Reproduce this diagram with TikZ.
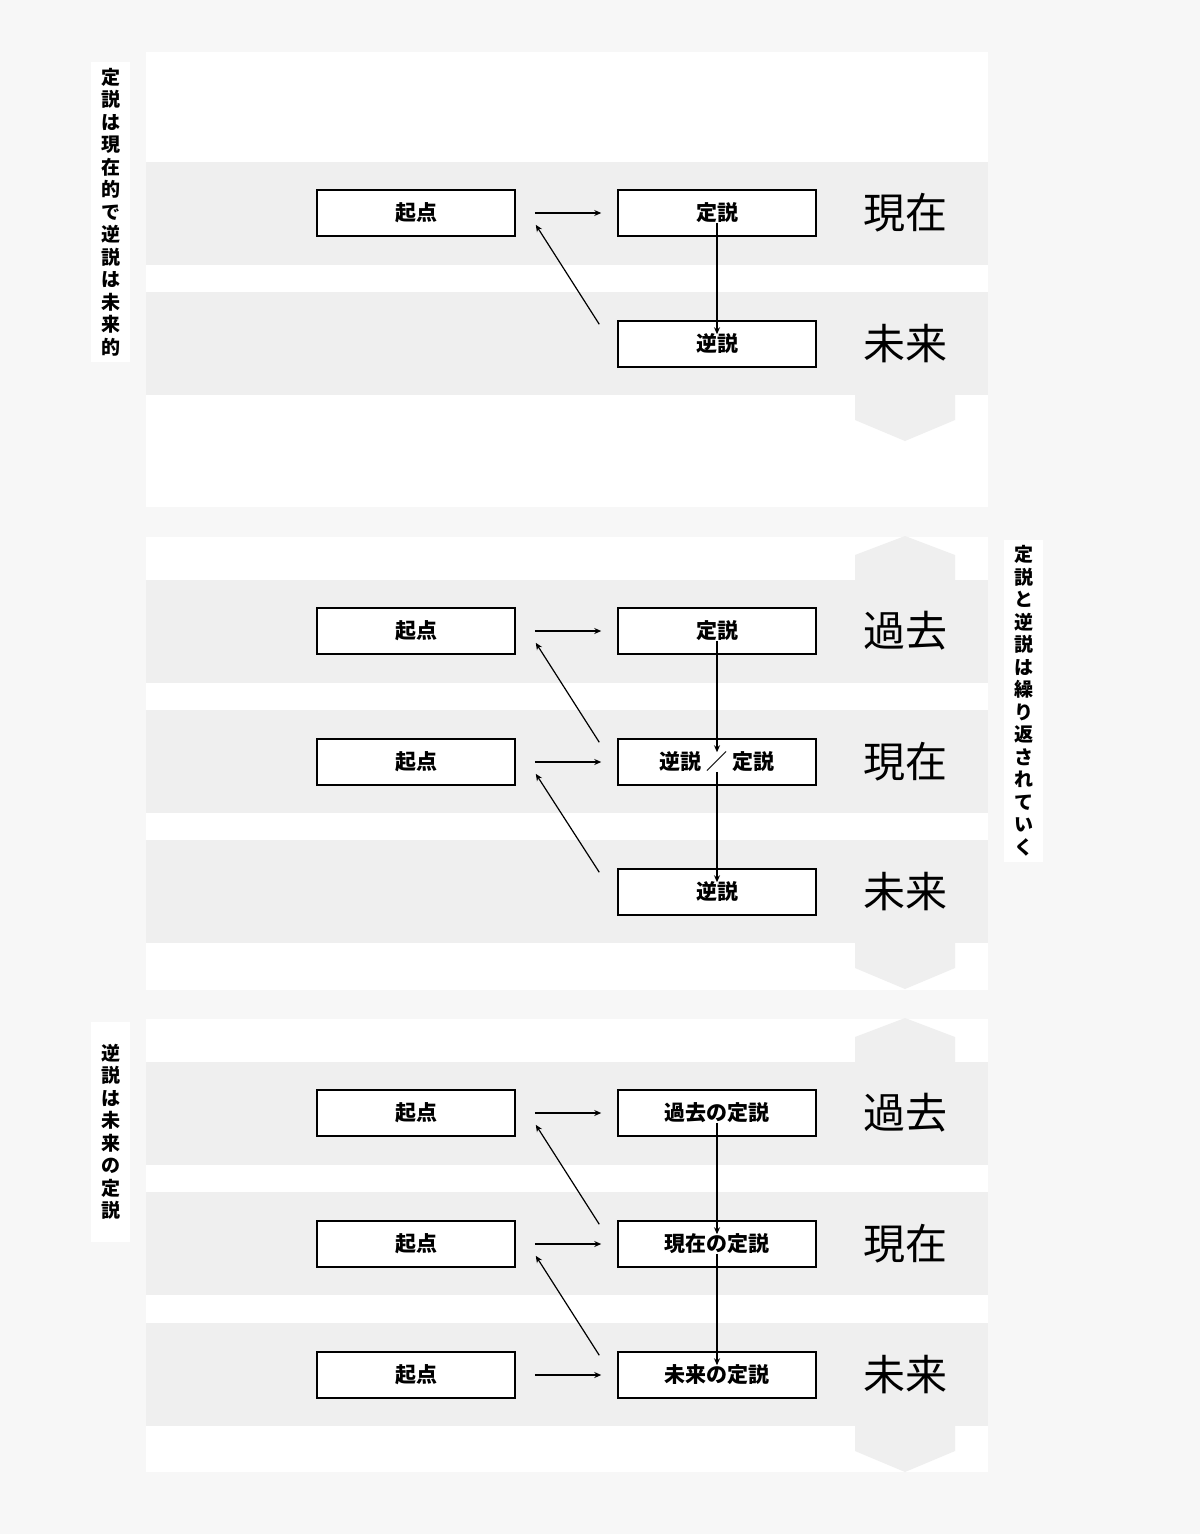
\documentclass[tikz,border=0pt]{standalone}
\usepackage{fontspec}
\setmainfont{Noto Sans CJK JP}
\usetikzlibrary{arrows.meta,positioning,calc}
\definecolor{pagebg}{HTML}{F7F7F7}
\definecolor{bandgray}{HTML}{EFEFEF}
\begin{document}
\begin{tikzpicture}[x=1pt, y=-1pt,
    box/.style={draw, line width=1.5pt, fill=white, minimum width=198pt, minimum height=46pt, inner sep=0pt, font=\fontsize{21}{24}\selectfont\bfseries},
    era/.style={font=\fontsize{42}{46}\selectfont},
    vlabel/.style={fill=white, align=center, inner sep=0pt, minimum width=39pt, font=\fontsize{19}{22.5}\selectfont\bfseries},
    arr/.style={-{Stealth[length=7pt, width=6pt]}, line width=1.2pt},
    band/.style={fill=bandgray}
  ]
    \useasboundingbox[fill=pagebg] (0,0) rectangle (1200,1534);
    % panels
    \fill[white] (146,52) rectangle (988,507);
    \fill[white] (146,537) rectangle (988,990);
    \fill[white] (146,1019) rectangle (988,1472);
    % bands
    \foreach \y in {162,292,580,710,840,1062,1192,1323}
      \fill[band] (146,\y) rectangle (988,\y+103);
    % chevrons
    \foreach \y in {395,943,1426}
      \fill[band] (855,\y) -- (955,\y) -- (955,\y+25) -- (905,\y+46) -- (855,\y+25) -- cycle;
    \foreach \y in {580,1062}
      \fill[band] (855,\y) -- (855,\y-25) -- (905,\y-44) -- (955,\y-25) -- (955,\y) -- cycle;

    % panel 1
    \node[box] (s1) at (416,213) {起点};
    \node[box] (t1) at (717,213) {定説};
    \node[box] (p1) at (717,344) {逆説};
    \node[era] (e1a) at (905,213) {現在};
    \node[era] (e1b) at (905,344) {未来};
    \draw[arr] ([xshift=19pt]s1.east) -- ([xshift=-16pt]t1.west);
    \draw[arr] ([yshift=14pt]t1.south) -- ([yshift=-14pt]p1.north);
    \draw[arr] ([xshift=-18pt, yshift=-4pt]p1.north west) -- ([xshift=20pt, yshift=12pt]s1.south east);

    % panel 2
    \node[box] (s2a) at (416,631) {起点};
    \node[box] (t2a) at (717,631) {定説};
    \node[box] (s2b) at (416,762) {起点};
    \node[box] (t2b) at (717,762) {逆説 ／ 定説};
    \node[box] (t2c) at (717,892) {逆説};
    \node[era] at (905,631) {過去};
    \node[era] at (905,762) {現在};
    \node[era] at (905,892) {未来};
    \draw[arr] ([xshift=19pt]s2a.east) -- ([xshift=-16pt]t2a.west);
    \draw[arr] ([xshift=19pt]s2b.east) -- ([xshift=-16pt]t2b.west);
    \draw[arr] ([yshift=14pt]t2a.south) -- ([yshift=-14pt]t2b.north);
    \draw[arr] ([yshift=14pt]t2b.south) -- ([yshift=-14pt]t2c.north);
    \draw[arr] ([xshift=-18pt, yshift=-4pt]t2b.north west) -- ([xshift=20pt, yshift=12pt]s2a.south east);
    \draw[arr] ([xshift=-18pt, yshift=-4pt]t2c.north west) -- ([xshift=20pt, yshift=12pt]s2b.south east);

    % panel 3
    \node[box] (s3a) at (416,1113) {起点};
    \node[box] (t3a) at (717,1113) {過去の定説};
    \node[box] (s3b) at (416,1244) {起点};
    \node[box] (t3b) at (717,1244) {現在の定説};
    \node[box] (s3c) at (416,1375) {起点};
    \node[box] (t3c) at (717,1375) {未来の定説};
    \node[era] at (905,1113) {過去};
    \node[era] at (905,1244) {現在};
    \node[era] at (905,1375) {未来};
    \draw[arr] ([xshift=19pt]s3a.east) -- ([xshift=-16pt]t3a.west);
    \draw[arr] ([xshift=19pt]s3b.east) -- ([xshift=-16pt]t3b.west);
    \draw[arr] ([xshift=19pt]s3c.east) -- ([xshift=-16pt]t3c.west);
    \draw[arr] ([yshift=14pt]t3a.south) -- ([yshift=-14pt]t3b.north);
    \draw[arr] ([yshift=14pt]t3b.south) -- ([yshift=-14pt]t3c.north);
    \draw[arr] ([xshift=-18pt, yshift=-4pt]t3b.north west) -- ([xshift=20pt, yshift=12pt]s3a.south east);
    \draw[arr] ([xshift=-18pt, yshift=-4pt]t3c.north west) -- ([xshift=20pt, yshift=12pt]s3b.south east);

    % vertical captions
    \node[vlabel, minimum height=300pt] (v1) at (110.5,212) {定\\説\\は\\現\\在\\的\\で\\逆\\説\\は\\未\\来\\的};
    \node[vlabel, minimum height=322pt] (v2) at (1023.5,701) {定\\説\\と\\逆\\説\\は\\繰\\り\\返\\さ\\れ\\て\\い\\く};
    \node[vlabel, minimum height=220pt] (v3) at (110.5,1132) {逆\\説\\は\\未\\来\\の\\定\\説};
  \end{tikzpicture}
\end{document}
